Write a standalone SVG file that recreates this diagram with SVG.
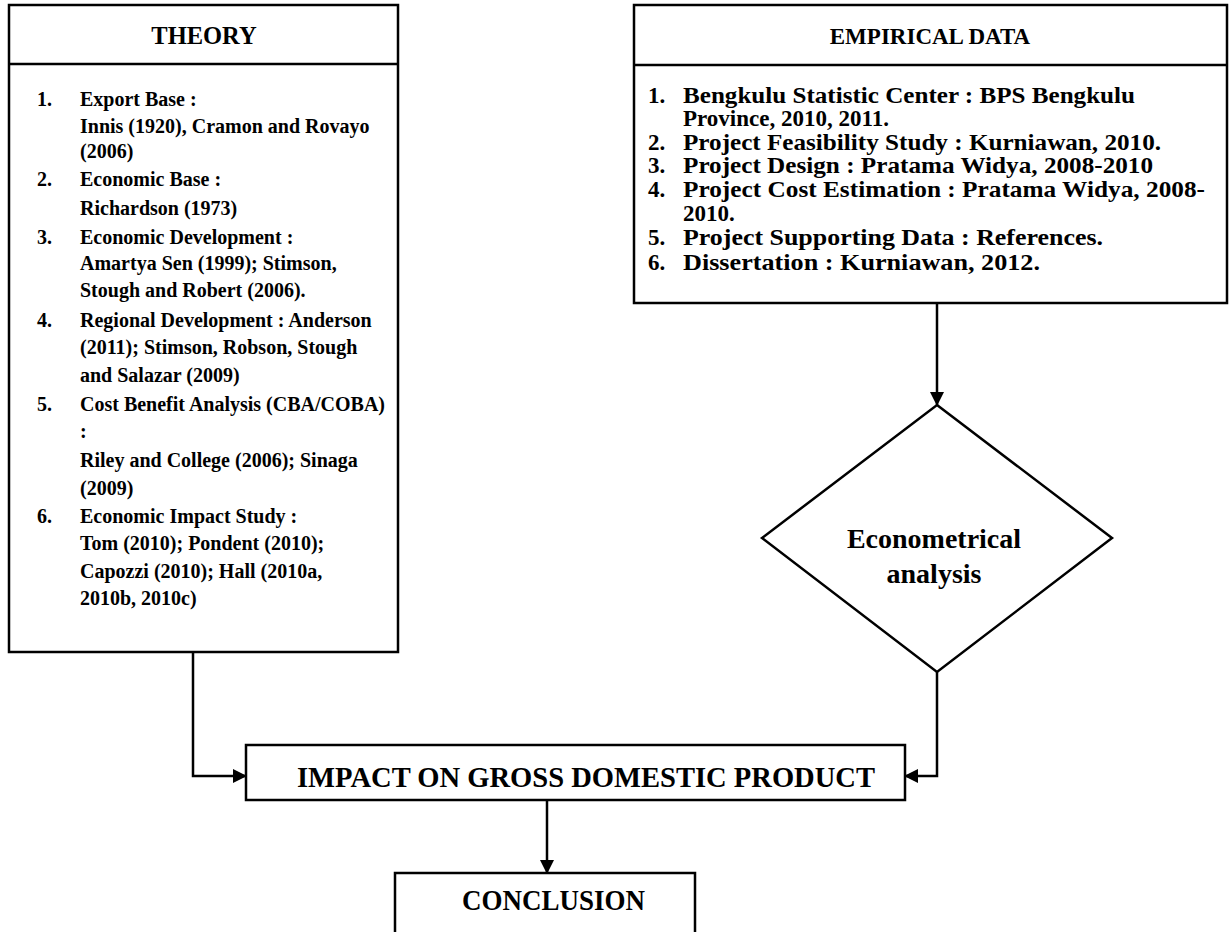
<svg xmlns="http://www.w3.org/2000/svg" width="1231" height="932" viewBox="0 0 1231 932">
<style>
.box{fill:#fff;stroke:#000;stroke-width:2.5}
.ln{fill:none;stroke:#000;stroke-width:2.5}
text{font-family:"Liberation Serif","Times New Roman",serif;font-weight:bold;fill:#000}
.h{font-size:23px;text-anchor:middle}
.t{font-size:20px}
.e{font-size:23px}
</style>
<defs>
<marker id="ah" markerWidth="14" markerHeight="14" refX="13" refY="7" orient="auto" markerUnits="userSpaceOnUse">
<path d="M0,0 L14,7 L0,14 Z" fill="#000"/>
</marker>
</defs>
<rect width="1231" height="932" fill="#fff"/>
<g id="theory">
<rect class="box" x="9" y="5" width="389" height="647"/>
<line class="ln" x1="9" y1="64" x2="398" y2="64"/>
<text class="h" x="204" y="44" style="font-size:24.5px">THEORY</text>
<g class="t">
<text x="37" y="106">1.</text><text x="80" y="106">Export Base :</text>
<text x="80" y="133">Innis (1920), Cramon and Rovayo</text>
<text x="80" y="158">(2006)</text>
<text x="37" y="186">2.</text><text x="80" y="186">Economic Base :</text>
<text x="80" y="215">Richardson (1973)</text>
<text x="37" y="244">3.</text><text x="80" y="244">Economic Development :</text>
<text x="80" y="270">Amartya Sen (1999); Stimson,</text>
<text x="80" y="297">Stough and Robert (2006).</text>
<text x="37" y="327">4.</text><text x="80" y="327">Regional Development : Anderson</text>
<text x="80" y="354">(2011); Stimson, Robson, Stough</text>
<text x="80" y="382">and Salazar (2009)</text>
<text x="37" y="411">5.</text><text x="80" y="411">Cost Benefit Analysis (CBA/COBA)</text>
<text x="80" y="438">:</text>
<text x="80" y="467">Riley and College (2006); Sinaga</text>
<text x="80" y="495">(2009)</text>
<text x="37" y="523">6.</text><text x="80" y="523">Economic Impact Study :</text>
<text x="80" y="550">Tom (2010); Pondent (2010);</text>
<text x="80" y="578">Capozzi (2010);  Hall (2010a,</text>
<text x="80" y="605">2010b, 2010c)</text>
</g>
</g>
<g id="empirical">
<rect class="box" x="634" y="5" width="593" height="298"/>
<line class="ln" x1="634" y1="65" x2="1227" y2="65"/>
<text class="h" x="930" y="44">EMPIRICAL DATA</text>
<g class="e">
<text x="648" y="103">1.</text><text x="683" y="103" textLength="452" lengthAdjust="spacingAndGlyphs">Bengkulu Statistic Center  : BPS Bengkulu</text>
<text x="683" y="126">Province, 2010, 2011.</text>
<text x="648" y="150">2.</text><text x="683" y="150" textLength="478" lengthAdjust="spacingAndGlyphs">Project Feasibility Study : Kurniawan, 2010.</text>
<text x="648" y="173">3.</text><text x="683" y="173" textLength="470" lengthAdjust="spacingAndGlyphs">Project Design : Pratama Widya, 2008-2010</text>
<text x="648" y="197">4.</text><text x="683" y="197" textLength="522" lengthAdjust="spacingAndGlyphs">Project Cost Estimation : Pratama Widya, 2008-</text>
<text x="683" y="221">2010.</text>
<text x="648" y="245">5.</text><text x="683" y="245" textLength="420" lengthAdjust="spacingAndGlyphs">Project Supporting Data : References.</text>
<text x="648" y="270">6.</text><text x="683" y="270" textLength="357" lengthAdjust="spacingAndGlyphs">Dissertation : Kurniawan, 2012.</text>
</g>
</g>
<g id="analysis">
<polygon class="box" points="937,405 1112,538 937,672 762,538"/>
<text x="934" y="548" text-anchor="middle" style="font-size:28px">Econometrical</text>
<text x="934" y="583" text-anchor="middle" style="font-size:28px">analysis</text>
</g>
<g id="impact">
<rect class="box" x="246" y="745" width="659" height="55"/>
<text x="297" y="787" style="font-size:30px" textLength="578" lengthAdjust="spacingAndGlyphs">IMPACT ON  GROSS DOMESTIC PRODUCT</text>
</g>
<g id="conclusion">
<rect class="box" x="395" y="873" width="300" height="70"/>
<text x="462" y="910" style="font-size:30px" textLength="183" lengthAdjust="spacingAndGlyphs">CONCLUSION</text>
</g>
<g id="connectors">
<line class="ln" x1="937" y1="303" x2="937" y2="405" marker-end="url(#ah)"/>
<polyline class="ln" points="193,652 193,776 246,776" marker-end="url(#ah)"/>
<polyline class="ln" points="937,672 937,776 905,776" marker-end="url(#ah)"/>
<line class="ln" x1="547" y1="800" x2="547" y2="873" marker-end="url(#ah)"/>
</g>
</svg>
